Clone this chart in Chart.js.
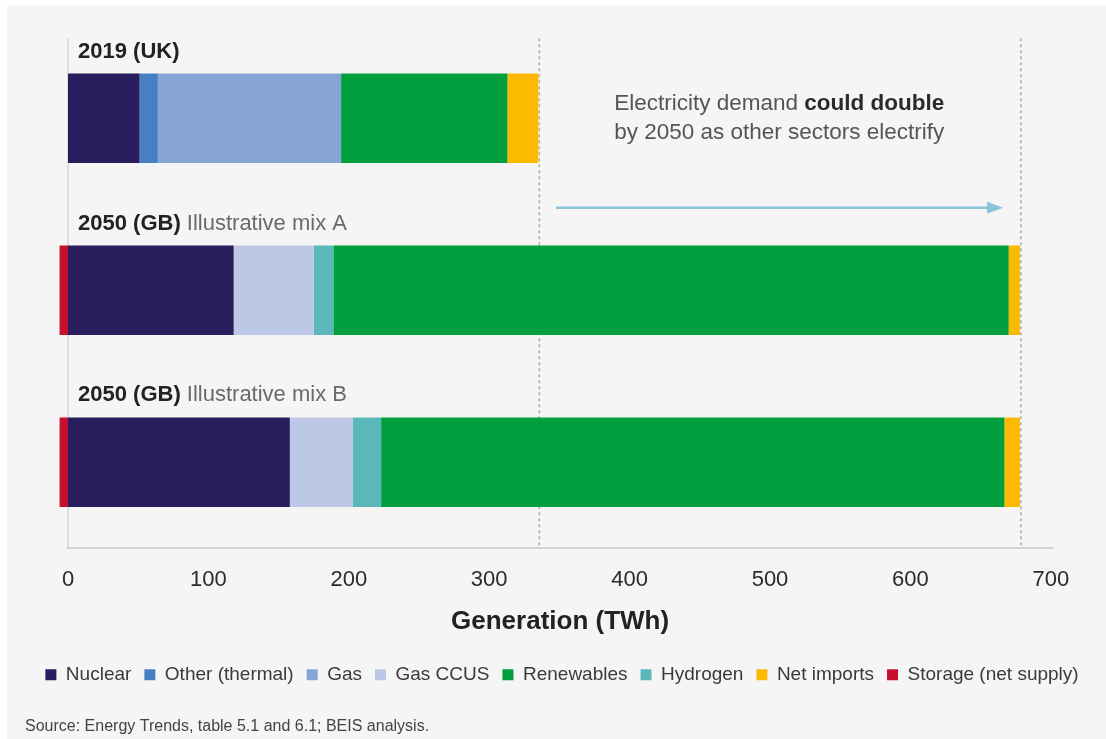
<!DOCTYPE html>
<html><head><meta charset="utf-8">
<script src="https://cdn.jsdelivr.net/npm/chart.js@4/dist/chart.umd.min.js"></script>
<style>html,body{margin:0;padding:0;background:#fff}</style>
</head><body>
<canvas id="c" width="1106" height="739"></canvas>
<script>
// ---- data ----
const categories = ['2019 (UK)', '2050 (GB) Illustrative mix A', '2050 (GB) Illustrative mix B'];
const categoryBold = ['2019 (UK)', '2050 (GB)', '2050 (GB)'];
const categoryRest = ['', ' Illustrative mix A', ' Illustrative mix B'];
const nuclear = [51, 118, 158];
const otherThermal = [13, 0, 0];
const gas = [130.5, 0, 0];
const gasCCUS = [0, 57, 45];
const hydrogen = [0, 14, 20];
const renewables = [118.5, 481, 444];
const netImports = [22, 8, 11];
const storage = [0, -6, -6];
const tickValues = [0, 100, 200, 300, 400, 500, 600, 700];
const demandMarkers = [335, 678];
const legendOrder = ['Nuclear', 'Other (thermal)', 'Gas', 'Gas CCUS', 'Renewables', 'Hydrogen', 'Net imports', 'Storage (net supply)'];
const annotationLine1 = ['Electricity demand ', 'could double'];
const annotationLine2 = 'by 2050 as other sectors electrify';
const sourceNote = 'Source: Energy Trends, table 5.1 and 6.1; BEIS analysis.';

const FONT = '"Liberation Sans", Arial, Helvetica, sans-serif';

const decor = {
  id: 'decor',
  beforeDraw(chart) {
    const ctx = chart.ctx;
    ctx.save();
    ctx.fillStyle = '#ffffff';
    ctx.fillRect(0, 0, chart.width, chart.height);
    ctx.fillStyle = '#f5f5f5';
    ctx.fillRect(7, 5, chart.width - 7, chart.height - 5);
    ctx.restore();
  },
  beforeDatasetsDraw(chart) {
    const {ctx, chartArea, scales: {x}} = chart;
    const top = chartArea.top + 6, bottom = chartArea.bottom;
    ctx.save();
    ctx.lineWidth = 1.5;
    ctx.strokeStyle = '#d4d4d4';
    const x0 = x.getPixelForValue(0);
    ctx.beginPath(); ctx.moveTo(x0, top); ctx.lineTo(x0, bottom); ctx.stroke();
    ctx.setLineDash([3, 3]);
    ctx.strokeStyle = '#ababab';
    demandMarkers.forEach(v => {
      const px = x.getPixelForValue(v) + 1;
      ctx.beginPath(); ctx.moveTo(px, top); ctx.lineTo(px, bottom); ctx.stroke();
    });
    ctx.restore();
  },
  afterDraw(chart) {
    const {ctx, scales: {x, y}} = chart;
    const meta = chart.getDatasetMeta(0);
    ctx.save();
    ctx.textBaseline = 'alphabetic';
    ctx.textAlign = 'left';
    // category labels
    categories.forEach((c, i) => {
      const bar = meta.data[i];
      const top = bar.y - bar.height / 2;
      const tx = x.getPixelForValue(0) + 10;
      const ty = top - 16;
      ctx.font = 'bold 22px ' + FONT;
      ctx.fillStyle = '#222222';
      ctx.fillText(categoryBold[i], tx, ty);
      const w = ctx.measureText(categoryBold[i]).width;
      ctx.font = '22px ' + FONT;
      ctx.fillStyle = '#6a6a6a';
      ctx.fillText(categoryRest[i], tx + w, ty);
    });
    // annotation
    const yc0 = y.getPixelForValue(0), yc1 = y.getPixelForValue(1);
    const ax = x.getPixelForValue(389);
    ctx.font = '22.5px ' + FONT;
    ctx.fillStyle = '#555555';
    ctx.fillText(annotationLine1[0], ax, yc0 - 8);
    const w1 = ctx.measureText(annotationLine1[0]).width;
    ctx.font = 'bold 22.5px ' + FONT;
    ctx.fillStyle = '#2a2a2a';
    ctx.fillText(annotationLine1[1], ax + w1, yc0 - 8);
    ctx.font = '22.5px ' + FONT;
    ctx.fillStyle = '#555555';
    ctx.fillText(annotationLine2, ax, yc0 + 21);
    // arrow
    const ay = yc0 + (yc1 - yc0) * 0.52;
    const x1 = x.getPixelForValue(347.5), x2 = x.getPixelForValue(666);
    ctx.strokeStyle = '#8cc3dc';
    ctx.fillStyle = '#8cc3dc';
    ctx.lineWidth = 2.5;
    ctx.beginPath(); ctx.moveTo(x1, ay); ctx.lineTo(x2 - 14, ay); ctx.stroke();
    ctx.beginPath(); ctx.moveTo(x2, ay); ctx.lineTo(x2 - 16, ay - 6); ctx.lineTo(x2 - 16, ay + 6); ctx.closePath(); ctx.fill();
    // source
    ctx.font = '16px ' + FONT;
    ctx.fillStyle = '#444444';
    ctx.fillText(sourceNote, 25, 731);
    ctx.restore();
  }
};

const datasets = [
  {label: 'Nuclear', data: nuclear, backgroundColor: '#281e5e'},
  {label: 'Other (thermal)', data: otherThermal, backgroundColor: '#4780c2'},
  {label: 'Gas', data: gas, backgroundColor: '#88a4d4'},
  {label: 'Gas CCUS', data: gasCCUS, backgroundColor: '#bdc8e6'},
  {label: 'Hydrogen', data: hydrogen, backgroundColor: '#5cb7bb'},
  {label: 'Renewables', data: renewables, backgroundColor: '#009e3c'},
  {label: 'Net imports', data: netImports, backgroundColor: '#fbb900'},
  {label: 'Storage (net supply)', data: storage, backgroundColor: '#c8102e'}
];

new Chart(document.getElementById('c'), {
  type: 'bar',
  data: {labels: categories, datasets},
  plugins: [decor],
  options: {
    responsive: false,
    animation: false,
    indexAxis: 'y',
    layout: {padding: {left: 18, right: 0, top: 32.25, bottom: 44.75}},
    datasets: {bar: {categoryPercentage: 1, barPercentage: 0.52, clip: false, borderWidth: 0}},
    scales: {
      x: {
        type: 'linear', stacked: true, min: -1, max: 702,
        afterBuildTicks: s => { s.ticks = tickValues.map(v => ({value: v})); },
        grid: {display: false, drawTicks: false},
        border: {display: true, color: '#d3d3d3', width: 2},
        ticks: {padding: 19, color: '#2b2b2b', font: {family: FONT, size: 22}, maxRotation: 0, autoSkip: false},
        title: {display: true, text: 'Generation (TWh)', color: '#222222', font: {family: FONT, size: 26, weight: 'bold'}, padding: {top: -6, bottom: 14.45}}
      },
      y: {
        type: 'category', stacked: true, position: 'left', display: true,
        grid: {display: false}, border: {display: false}, ticks: {display: false},
        afterFit: s => { s.width = 48.6; }
      },
      yR: {
        type: 'linear', position: 'right', display: true,
        grid: {display: false}, border: {display: false}, ticks: {display: false},
        afterFit: s => { s.width = 52.4; }
      }
    },
    plugins: {
      legend: {
        position: 'bottom',
        labels: {
          boxWidth: 11, boxHeight: 11, padding: 13, color: '#3a3a3a',
          font: {family: FONT, size: 19},
          sort: (a, b) => legendOrder.indexOf(a.text) - legendOrder.indexOf(b.text)
        }
      },
      tooltip: {enabled: false}
    }
  }
});
</script>
</body></html>
